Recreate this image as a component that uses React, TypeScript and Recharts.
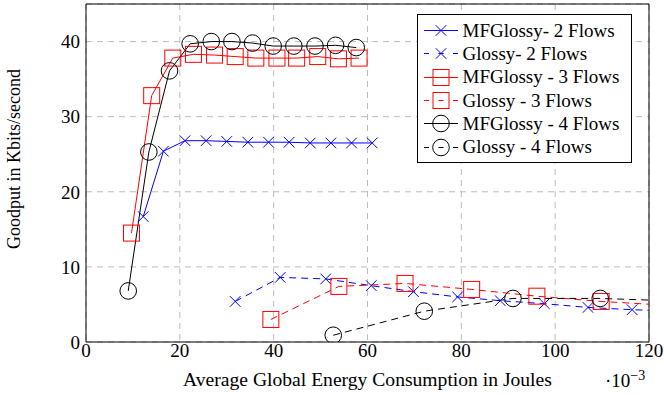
import React from "react";
import {
  LineChart,
  Line,
  XAxis,
  YAxis,
  CartesianGrid,
  ReferenceArea,
} from "recharts";

const FONT = '"Liberation Serif", "Times New Roman", serif';

// energy (x 10^-3 J) and goodput (Kbits/s) per series
const mf2X = [12.2, 16.5, 21.1, 25.6, 30.0, 34.5, 38.9, 43.3, 47.8, 52.2, 56.6, 61.0];
const mf2Y = [16.7, 25.4, 26.8, 26.8, 26.7, 26.6, 26.6, 26.6, 26.5, 26.5, 26.5, 26.5];

const gl2X = [31.8, 41.4, 51.1, 60.8, 69.8, 79.2, 88.3, 97.7, 107.0, 116.4, 125.8];
const gl2Y = [5.4, 8.6, 8.4, 7.5, 6.7, 6.0, 5.5, 5.1, 4.6, 4.3, 4.1];

const mf3X = [9.7, 14.0, 18.5, 22.9, 27.4, 31.8, 36.2, 40.7, 44.9, 49.4, 53.8, 58.2];
const mf3Y = [14.5, 32.8, 37.8, 38.3, 38.2, 38.0, 37.8, 37.8, 37.8, 38.0, 37.7, 37.8];

const gl3X = [39.4, 53.9, 68.0, 82.2, 96.1, 109.8, 123.6];
const gl3Y = [3.0, 7.4, 7.8, 7.0, 6.1, 5.4, 4.9];

const mf4X = [9.0, 13.4, 17.8, 22.2, 26.7, 31.1, 35.5, 39.9, 44.3, 48.8, 53.2, 57.6];
const mf4Y = [6.8, 25.3, 36.1, 39.7, 40.0, 40.0, 39.8, 39.4, 39.4, 39.4, 39.5, 39.2];

const gl4X = [52.7, 72.1, 91.0, 109.6, 128.5];
const gl4Y = [0.9, 4.1, 5.8, 5.8, 5.4];

const xTicks = [0, 20, 40, 60, 80, 100, 120];
const yTicks = [0, 10, 20, 30, 40];

const zip = (xs: number[], ys: number[]) => xs.map((x, i) => ({ x, y: ys[i] }));

type MarkerKind = "cross" | "square" | "circle";

function Marker({ kind, cx, cy, color }: { kind: MarkerKind; cx: number; cy: number; color: string }) {
  if (kind === "cross") {
    const h = 5.3;
    return (
      <g stroke={color} strokeWidth={1}>
        <line x1={cx - h} y1={cy - h} x2={cx + h} y2={cy + h} />
        <line x1={cx - h} y1={cy + h} x2={cx + h} y2={cy - h} />
      </g>
    );
  }
  if (kind === "square") {
    return <rect x={cx - 8} y={cy - 8} width={16} height={16} fill="none" stroke={color} strokeWidth={1} />;
  }
  return <circle cx={cx} cy={cy} r={8.3} fill="none" stroke={color} strokeWidth={1} />;
}

const series = [
  { name: "MFGlossy- 2 Flows", data: zip(mf2X, mf2Y), color: "#0000ff", kind: "cross" as MarkerKind, dashed: false },
  { name: "Glossy- 2 Flows", data: zip(gl2X, gl2Y), color: "#0000ff", kind: "cross" as MarkerKind, dashed: true },
  { name: "MFGlossy - 3 Flows", data: zip(mf3X, mf3Y), color: "#ff0000", kind: "square" as MarkerKind, dashed: false },
  { name: "Glossy - 3 Flows", data: zip(gl3X, gl3Y), color: "#ff0000", kind: "square" as MarkerKind, dashed: true },
  { name: "MFGlossy - 4 Flows", data: zip(mf4X, mf4Y), color: "#000000", kind: "circle" as MarkerKind, dashed: false },
  { name: "Glossy - 4 Flows", data: zip(gl4X, gl4Y), color: "#000000", kind: "circle" as MarkerKind, dashed: true },
];

function LegendBox() {
  return (
    <div
      style={{
        position: "absolute",
        left: 417,
        top: 14,
        border: "1px solid #000",
        background: "#fff",
        width: 213,
        height: 143,
        paddingTop: 4,
        boxSizing: "content-box",
        fontFamily: FONT,
        fontSize: 19,
        color: "#000",
      }}
    >
      {series.map((s) => (
        <div key={s.name} style={{ display: "flex", alignItems: "center", height: 23.3, whiteSpace: "nowrap" }}>
          <svg width={44} height={23} style={{ flex: "none" }}>
            {s.dashed ? (
              <g stroke={s.color} strokeWidth={1}>
                <line x1={6} y1={11.5} x2={11} y2={11.5} />
                <line x1={20.5} y1={11.5} x2={25.5} y2={11.5} />
                <line x1={35} y1={11.5} x2={40} y2={11.5} />
              </g>
            ) : (
              <line x1={6} y1={11.5} x2={40} y2={11.5} stroke={s.color} strokeWidth={1} />
            )}
            <Marker kind={s.kind} cx={23} cy={11.5} color={s.color} />
          </svg>
          <span style={{ marginLeft: 0.5 }}>{s.name}</span>
        </div>
      ))}
    </div>
  );
}

function XLabel(props: any) {
  const { x, y, width } = props.viewBox;
  return (
    <g fontFamily={FONT} fill="#000">
      <text x={x + width / 2} y={y + 44} textAnchor="middle" fontSize={19.6}>
        Average Global Energy Consumption in Joules
      </text>
      <text x={x + width - 44} y={y + 45} fontSize={19}>
        ·10
        <tspan dy={-7} fontSize={14}>
          −3
        </tspan>
      </text>
    </g>
  );
}

function YLabel(props: any) {
  const { x, y, height } = props.viewBox;
  const cx = x - 6;
  const cy = y + height / 2 - 14;
  return (
    <text
      x={cx}
      y={cy}
      transform={`rotate(-90, ${cx}, ${cy})`}
      textAnchor="middle"
      fontFamily={FONT}
      fontSize={18}
      fill="#000"
    >
      Goodput in Kbits/second
    </text>
  );
}

export default function App() {
  return (
    <div style={{ position: "absolute", left: 0, top: 0, width: 664, height: 395, background: "#fff" }}>
      <LineChart width={664} height={395} margin={{ top: 4, right: 15, bottom: 13, left: 26 }} style={{ fontFamily: FONT }}>
        <CartesianGrid stroke="#bdbdbd" strokeDasharray="6 5" />
        <XAxis
          type="number"
          dataKey="x"
          domain={[0, 120]}
          ticks={xTicks}
          allowDataOverflow
          axisLine={false}
          tickLine={false}
          tickSize={0}
          tickMargin={2}
          height={40}
          tick={{ fill: "#000", fontSize: 19, fontFamily: FONT }}
          label={{ content: XLabel }}
        />
        <YAxis
          type="number"
          dataKey="y"
          domain={[0, 45]}
          ticks={yTicks}
          allowDataOverflow
          axisLine={false}
          tickLine={false}
          tickSize={0}
          tickMargin={6}
          width={60}
          tick={{ fill: "#000", fontSize: 19, fontFamily: FONT }}
          label={{ content: YLabel }}
        />
        <ReferenceArea x1={0} x2={120} y1={0} y2={45} fill="none" stroke="#000" strokeWidth={1} />
        {series.map((s) => (
          <Line
            key={s.name}
            data={s.data}
            dataKey="y"
            name={s.name}
            type="linear"
            stroke={s.color}
            strokeWidth={1}
            strokeDasharray={s.dashed ? "7 5" : undefined}
            isAnimationActive={false}
            dot={(p: any) => <Marker key={`${s.name}-${p.index}`} kind={s.kind} cx={p.cx} cy={p.cy} color={s.color} />}
            activeDot={false}
          />
        ))}
      </LineChart>
      <LegendBox />
    </div>
  );
}
